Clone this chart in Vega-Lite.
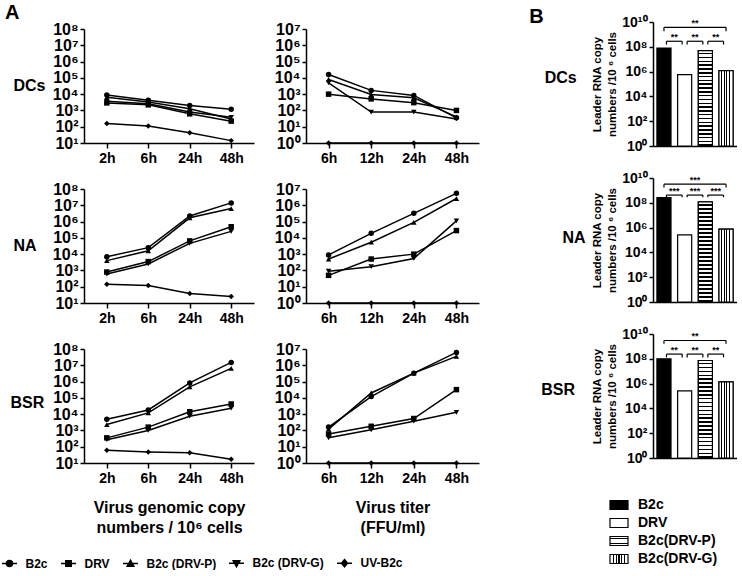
{
"$schema":"https://vega.github.io/schema/vega-lite/v6.json",
"padding":{"left":3,"top":3,"right":0,"bottom":0},
"background":"white",
"datasets":{
"lines":[
{"c":"DCs","a":"g","t":"2h","h":2,"s":"B2c","v":8900},{"c":"DCs","a":"g","t":"6h","h":6,"s":"B2c","v":4200},{"c":"DCs","a":"g","t":"24h","h":24,"s":"B2c","v":2000},{"c":"DCs","a":"g","t":"48h","h":48,"s":"B2c","v":1200},
{"c":"DCs","a":"g","t":"2h","h":2,"s":"DRV","v":2900},{"c":"DCs","a":"g","t":"6h","h":6,"s":"DRV","v":2200},{"c":"DCs","a":"g","t":"24h","h":24,"s":"DRV","v":620},{"c":"DCs","a":"g","t":"48h","h":48,"s":"DRV","v":220},
{"c":"DCs","a":"g","t":"2h","h":2,"s":"B2c (DRV-P)","v":6500},{"c":"DCs","a":"g","t":"6h","h":6,"s":"B2c (DRV-P)","v":3300},{"c":"DCs","a":"g","t":"24h","h":24,"s":"B2c (DRV-P)","v":1250},{"c":"DCs","a":"g","t":"48h","h":48,"s":"B2c (DRV-P)","v":300},
{"c":"DCs","a":"g","t":"2h","h":2,"s":"B2c (DRV-G)","v":3600},{"c":"DCs","a":"g","t":"6h","h":6,"s":"B2c (DRV-G)","v":2600},{"c":"DCs","a":"g","t":"24h","h":24,"s":"B2c (DRV-G)","v":800},{"c":"DCs","a":"g","t":"48h","h":48,"s":"B2c (DRV-G)","v":380},
{"c":"DCs","a":"g","t":"2h","h":2,"s":"UV-B2c","v":160},{"c":"DCs","a":"g","t":"6h","h":6,"s":"UV-B2c","v":110},{"c":"DCs","a":"g","t":"24h","h":24,"s":"UV-B2c","v":42},{"c":"DCs","a":"g","t":"48h","h":48,"s":"UV-B2c","v":14},
{"c":"DCs","a":"t","t":"6h","h":6,"s":"B2c","v":16000},{"c":"DCs","a":"t","t":"12h","h":12,"s":"B2c","v":1700},{"c":"DCs","a":"t","t":"24h","h":24,"s":"B2c","v":830},{"c":"DCs","a":"t","t":"48h","h":48,"s":"B2c","v":35},
{"c":"DCs","a":"t","t":"6h","h":6,"s":"DRV","v":1000},{"c":"DCs","a":"t","t":"12h","h":12,"s":"DRV","v":510},{"c":"DCs","a":"t","t":"24h","h":24,"s":"DRV","v":300},{"c":"DCs","a":"t","t":"48h","h":48,"s":"DRV","v":100},
{"c":"DCs","a":"t","t":"6h","h":6,"s":"B2c (DRV-P)","v":8000},{"c":"DCs","a":"t","t":"12h","h":12,"s":"B2c (DRV-P)","v":960},{"c":"DCs","a":"t","t":"24h","h":24,"s":"B2c (DRV-P)","v":600},{"c":"DCs","a":"t","t":"48h","h":48,"s":"B2c (DRV-P)","v":40},
{"c":"DCs","a":"t","t":"6h","h":6,"s":"B2c (DRV-G)","v":5000},{"c":"DCs","a":"t","t":"12h","h":12,"s":"B2c (DRV-G)","v":80},{"c":"DCs","a":"t","t":"24h","h":24,"s":"B2c (DRV-G)","v":80},{"c":"DCs","a":"t","t":"48h","h":48,"s":"B2c (DRV-G)","v":30},
{"c":"DCs","a":"t","t":"6h","h":6,"s":"UV-B2c","v":1},{"c":"DCs","a":"t","t":"12h","h":12,"s":"UV-B2c","v":1},{"c":"DCs","a":"t","t":"24h","h":24,"s":"UV-B2c","v":1},{"c":"DCs","a":"t","t":"48h","h":48,"s":"UV-B2c","v":1},
{"c":"NA","a":"g","t":"2h","h":2,"s":"B2c","v":7000},{"c":"NA","a":"g","t":"6h","h":6,"s":"B2c","v":25000},{"c":"NA","a":"g","t":"24h","h":24,"s":"B2c","v":2200000},{"c":"NA","a":"g","t":"48h","h":48,"s":"B2c","v":14000000},
{"c":"NA","a":"g","t":"2h","h":2,"s":"DRV","v":800},{"c":"NA","a":"g","t":"6h","h":6,"s":"DRV","v":3500},{"c":"NA","a":"g","t":"24h","h":24,"s":"DRV","v":65000},{"c":"NA","a":"g","t":"48h","h":48,"s":"DRV","v":480000},
{"c":"NA","a":"g","t":"2h","h":2,"s":"B2c (DRV-P)","v":4000},{"c":"NA","a":"g","t":"6h","h":6,"s":"B2c (DRV-P)","v":16000},{"c":"NA","a":"g","t":"24h","h":24,"s":"B2c (DRV-P)","v":1700000},{"c":"NA","a":"g","t":"48h","h":48,"s":"B2c (DRV-P)","v":6300000},
{"c":"NA","a":"g","t":"2h","h":2,"s":"B2c (DRV-G)","v":600},{"c":"NA","a":"g","t":"6h","h":6,"s":"B2c (DRV-G)","v":2500},{"c":"NA","a":"g","t":"24h","h":24,"s":"B2c (DRV-G)","v":46000},{"c":"NA","a":"g","t":"48h","h":48,"s":"B2c (DRV-G)","v":250000},
{"c":"NA","a":"g","t":"2h","h":2,"s":"UV-B2c","v":140},{"c":"NA","a":"g","t":"6h","h":6,"s":"UV-B2c","v":120},{"c":"NA","a":"g","t":"24h","h":24,"s":"UV-B2c","v":38},{"c":"NA","a":"g","t":"48h","h":48,"s":"UV-B2c","v":25},
{"c":"NA","a":"t","t":"6h","h":6,"s":"B2c","v":900},{"c":"NA","a":"t","t":"12h","h":12,"s":"B2c","v":19000},{"c":"NA","a":"t","t":"24h","h":24,"s":"B2c","v":320000},{"c":"NA","a":"t","t":"48h","h":48,"s":"B2c","v":5400000},
{"c":"NA","a":"t","t":"6h","h":6,"s":"DRV","v":50},{"c":"NA","a":"t","t":"12h","h":12,"s":"DRV","v":500},{"c":"NA","a":"t","t":"24h","h":24,"s":"DRV","v":1000},{"c":"NA","a":"t","t":"48h","h":48,"s":"DRV","v":28000},
{"c":"NA","a":"t","t":"6h","h":6,"s":"B2c (DRV-P)","v":500},{"c":"NA","a":"t","t":"12h","h":12,"s":"B2c (DRV-P)","v":5400},{"c":"NA","a":"t","t":"24h","h":24,"s":"B2c (DRV-P)","v":90000},{"c":"NA","a":"t","t":"48h","h":48,"s":"B2c (DRV-P)","v":2600000},
{"c":"NA","a":"t","t":"6h","h":6,"s":"B2c (DRV-G)","v":90},{"c":"NA","a":"t","t":"12h","h":12,"s":"B2c (DRV-G)","v":170},{"c":"NA","a":"t","t":"24h","h":24,"s":"B2c (DRV-G)","v":540},{"c":"NA","a":"t","t":"48h","h":48,"s":"B2c (DRV-G)","v":110000},
{"c":"NA","a":"t","t":"6h","h":6,"s":"UV-B2c","v":1},{"c":"NA","a":"t","t":"12h","h":12,"s":"UV-B2c","v":1},{"c":"NA","a":"t","t":"24h","h":24,"s":"UV-B2c","v":1},{"c":"NA","a":"t","t":"48h","h":48,"s":"UV-B2c","v":1},
{"c":"BSR","a":"g","t":"2h","h":2,"s":"B2c","v":4900},{"c":"BSR","a":"g","t":"6h","h":6,"s":"B2c","v":18000},{"c":"BSR","a":"g","t":"24h","h":24,"s":"B2c","v":830000},{"c":"BSR","a":"g","t":"48h","h":48,"s":"B2c","v":15000000},
{"c":"BSR","a":"g","t":"2h","h":2,"s":"DRV","v":350},{"c":"BSR","a":"g","t":"6h","h":6,"s":"DRV","v":1600},{"c":"BSR","a":"g","t":"24h","h":24,"s":"DRV","v":14000},{"c":"BSR","a":"g","t":"48h","h":48,"s":"DRV","v":42000},
{"c":"BSR","a":"g","t":"2h","h":2,"s":"B2c (DRV-P)","v":2300},{"c":"BSR","a":"g","t":"6h","h":6,"s":"B2c (DRV-P)","v":12000},{"c":"BSR","a":"g","t":"24h","h":24,"s":"B2c (DRV-P)","v":470000},{"c":"BSR","a":"g","t":"48h","h":48,"s":"B2c (DRV-P)","v":6500000},
{"c":"BSR","a":"g","t":"2h","h":2,"s":"B2c (DRV-G)","v":270},{"c":"BSR","a":"g","t":"6h","h":6,"s":"B2c (DRV-G)","v":1000},{"c":"BSR","a":"g","t":"24h","h":24,"s":"B2c (DRV-G)","v":7500},{"c":"BSR","a":"g","t":"48h","h":48,"s":"B2c (DRV-G)","v":23000},
{"c":"BSR","a":"g","t":"2h","h":2,"s":"UV-B2c","v":60},{"c":"BSR","a":"g","t":"6h","h":6,"s":"UV-B2c","v":48},{"c":"BSR","a":"g","t":"24h","h":24,"s":"UV-B2c","v":42},{"c":"BSR","a":"g","t":"48h","h":48,"s":"UV-B2c","v":17},
{"c":"BSR","a":"t","t":"6h","h":6,"s":"B2c","v":160},{"c":"BSR","a":"t","t":"12h","h":12,"s":"B2c","v":12000},{"c":"BSR","a":"t","t":"24h","h":24,"s":"B2c","v":330000},{"c":"BSR","a":"t","t":"48h","h":48,"s":"B2c","v":6200000},
{"c":"BSR","a":"t","t":"6h","h":6,"s":"DRV","v":60},{"c":"BSR","a":"t","t":"12h","h":12,"s":"DRV","v":180},{"c":"BSR","a":"t","t":"24h","h":24,"s":"DRV","v":540},{"c":"BSR","a":"t","t":"48h","h":48,"s":"DRV","v":32000},
{"c":"BSR","a":"t","t":"6h","h":6,"s":"B2c (DRV-P)","v":120},{"c":"BSR","a":"t","t":"12h","h":12,"s":"B2c (DRV-P)","v":20000},{"c":"BSR","a":"t","t":"24h","h":24,"s":"B2c (DRV-P)","v":330000},{"c":"BSR","a":"t","t":"48h","h":48,"s":"B2c (DRV-P)","v":3500000},
{"c":"BSR","a":"t","t":"6h","h":6,"s":"B2c (DRV-G)","v":35},{"c":"BSR","a":"t","t":"12h","h":12,"s":"B2c (DRV-G)","v":110},{"c":"BSR","a":"t","t":"24h","h":24,"s":"B2c (DRV-G)","v":370},{"c":"BSR","a":"t","t":"48h","h":48,"s":"B2c (DRV-G)","v":1300},
{"c":"BSR","a":"t","t":"6h","h":6,"s":"UV-B2c","v":1},{"c":"BSR","a":"t","t":"12h","h":12,"s":"UV-B2c","v":1},{"c":"BSR","a":"t","t":"24h","h":24,"s":"UV-B2c","v":1},{"c":"BSR","a":"t","t":"48h","h":48,"s":"UV-B2c","v":1}
],
"bars":[
{"c":"DCs","g":"B2c","v":80000000},{"c":"DCs","g":"DRV","v":560000},{"c":"DCs","g":"B2c(DRV-P)","v":49000000},{"c":"DCs","g":"B2c(DRV-G)","v":1200000},
{"c":"NA","g":"B2c","v":260000000},{"c":"NA","g":"DRV","v":260000},{"c":"NA","g":"B2c(DRV-P)","v":120000000},{"c":"NA","g":"B2c(DRV-G)","v":740000},
{"c":"BSR","g":"B2c","v":100000000},{"c":"BSR","g":"DRV","v":260000},{"c":"BSR","g":"B2c(DRV-P)","v":73000000},{"c":"BSR","g":"B2c(DRV-G)","v":1400000}
],
"br":[
{"c":"DCs","k":"o","from":"B2c","to":"B2c(DRV-G)","lab":"DRV","y":3700000000,"ylo":1800000000,"txt":"**"},
{"c":"DCs","k":"i","from":"B2c","to":"DRV","lab":"B2c","y":280000000,"ylo":150000000,"txt":"**"},
{"c":"DCs","k":"i","from":"DRV","to":"B2c(DRV-P)","lab":"DRV","y":280000000,"ylo":150000000,"txt":"**"},
{"c":"DCs","k":"i","from":"B2c(DRV-P)","to":"B2c(DRV-G)","lab":"B2c(DRV-P)","y":280000000,"ylo":150000000,"txt":"**"},
{"c":"NA","k":"o","from":"B2c","to":"B2c(DRV-G)","lab":"DRV","y":3200000000,"ylo":1700000000,"txt":"***"},
{"c":"NA","k":"i","from":"B2c","to":"DRV","lab":"B2c","y":420000000,"ylo":280000000,"txt":"***"},
{"c":"NA","k":"i","from":"DRV","to":"B2c(DRV-P)","lab":"DRV","y":420000000,"ylo":280000000,"txt":"***"},
{"c":"NA","k":"i","from":"B2c(DRV-P)","to":"B2c(DRV-G)","lab":"B2c(DRV-P)","y":420000000,"ylo":280000000,"txt":"***"},
{"c":"BSR","k":"o","from":"B2c","to":"B2c(DRV-G)","lab":"DRV","y":3000000000,"ylo":1600000000,"txt":"**"},
{"c":"BSR","k":"i","from":"B2c","to":"DRV","lab":"B2c","y":240000000,"ylo":130000000,"txt":"**"},
{"c":"BSR","k":"i","from":"DRV","to":"B2c(DRV-P)","lab":"DRV","y":240000000,"ylo":130000000,"txt":"**"},
{"c":"BSR","k":"i","from":"B2c(DRV-P)","to":"B2c(DRV-G)","lab":"B2c(DRV-P)","y":240000000,"ylo":130000000,"txt":"**"}
]
},
"config":{
"font":"Liberation Sans",
"view":{"stroke":null},
"axis":{"grid":false,"labelFont":"Liberation Sans","labelFontWeight":"bold","labelFontSize":14,"labelColor":"black","titleFont":"Liberation Sans","titleFontWeight":"bold","titleColor":"black","domainColor":"black","domainWidth":1.5,"tickColor":"black","tickWidth":1.5,"tickSize":4,"labelPadding":2},
"axisY":{"labelFontSize":16},
"title":{"font":"Liberation Sans","fontWeight":"bold","color":"black","fontSize":20},
"legend":{"padding":0,"labelFont":"Liberation Sans Narrow, Liberation Sans","labelFontWeight":"bold","labelColor":"black","labelFontSize":12}
},
"spacing":50,
"hconcat":[
{
"title":{"text":"A","anchor":"start","fontSize":20,"dx":-5,"offset":-2},
"columns":2,"bounds":"flush","spacing":{"row":46,"column":52},
"concat":[
{"width":170,"height":114,"data":{"name":"lines"},"transform":[{"filter":"datum.c==='DCs' && datum.a==='g'"}],
"encoding":{"x":{"field":"t","type":"ordinal","scale":{"type":"point","domain":["2h","6h","24h","48h"],"padding":0.55},"axis":{"title":null,"labelAngle":0,"tickSize":5,"labelPadding":3}},
"y":{"field":"v","type":"quantitative","scale":{"type":"log","domain":[10,100000000]},"axis":{"values":[10,100,1000,10000,100000,1000000,10000000,100000000],"labelExpr":"'10' + ['⁰','¹','²','³','⁴','⁵','⁶','⁷','⁸','⁹','¹⁰'][round(log(datum.value)/LN10)]","title":"DCs","titleAngle":0,"titleAlign":"left","titleBaseline":"middle","titleX":-71,"titleY":56,"titleFontSize":16}}},
"layer":[{"mark":{"type":"line","color":"black","strokeWidth":1.5},"encoding":{"detail":{"field":"s","type":"nominal"},"order":{"field":"h","type":"quantitative"}}},
{"transform":[{"filter":"datum.s==='B2c'"}],"mark":{"type":"point","shape":"circle","filled":true,"color":"black","size":30,"opacity":1}},
{"transform":[{"filter":"datum.s==='DRV'"}],"mark":{"type":"point","shape":"square","filled":true,"color":"black","size":30,"opacity":1}},
{"transform":[{"filter":"datum.s==='B2c (DRV-P)'"}],"mark":{"type":"point","shape":"triangle-up","filled":true,"color":"black","size":30,"opacity":1}},
{"transform":[{"filter":"datum.s==='B2c (DRV-G)'"}],"mark":{"type":"point","shape":"triangle-down","filled":true,"color":"black","size":30,"opacity":1}},
{"transform":[{"filter":"datum.s==='UV-B2c'"}],"mark":{"type":"point","shape":"diamond","filled":true,"color":"black","size":30,"opacity":1}},
{"mark":{"type":"point","fill":"black","stroke":"black","strokeWidth":1.5,"size":36,"opacity":0},"encoding":{"shape":{"field":"s","type":"nominal","scale":{"domain":["B2c","DRV","B2c (DRV-P)","B2c (DRV-G)","UV-B2c"],"range":["M-2.5,0H2.5M1,0A1,1,0,1,1,-1,0A1,1,0,1,1,1,0Z","M-2.5,0H2.5M-0.9,-0.9H0.9V0.9H-0.9Z","M-2.5,0H2.5M0,-1.1L1.1,0.9H-1.1Z","M-2.5,0H2.5M0,1.1L1.1,-0.9H-1.1Z","M-2.5,0H2.5M0,-1.2L1,0L0,1.2L-1,0Z"]},
"legend":{"orient":"none","legendX":-80.5,"legendY":528,"direction":"horizontal","title":null,"symbolSize":36,"symbolOpacity":1,"symbolStrokeWidth":1.5,"labelFont":"Liberation Sans Narrow, Liberation Sans","labelFontSize":12,"labelOffset":10,"columnPadding":9}}}}]},
{"width":173,"height":114,"data":{"name":"lines"},"transform":[{"filter":"datum.c==='DCs' && datum.a==='t'"}],
"encoding":{"x":{"field":"t","type":"ordinal","scale":{"type":"point","domain":["6h","12h","24h","48h"],"padding":0.53},"axis":{"title":null,"labelAngle":0,"tickSize":5,"labelPadding":3}},
"y":{"field":"v","type":"quantitative","scale":{"type":"log","domain":[1,10000000]},"axis":{"values":[1,10,100,1000,10000,100000,1000000,10000000],"labelExpr":"'10' + ['⁰','¹','²','³','⁴','⁵','⁶','⁷','⁸','⁹','¹⁰'][round(log(datum.value)/LN10)]","title":null}}},
"layer":[{"mark":{"type":"line","color":"black","strokeWidth":1.5},"encoding":{"detail":{"field":"s","type":"nominal"},"order":{"field":"h","type":"quantitative"}}},
{"transform":[{"filter":"datum.s==='B2c'"}],"mark":{"type":"point","shape":"circle","filled":true,"color":"black","size":30,"opacity":1}},
{"transform":[{"filter":"datum.s==='DRV'"}],"mark":{"type":"point","shape":"square","filled":true,"color":"black","size":30,"opacity":1}},
{"transform":[{"filter":"datum.s==='B2c (DRV-P)'"}],"mark":{"type":"point","shape":"triangle-up","filled":true,"color":"black","size":30,"opacity":1}},
{"transform":[{"filter":"datum.s==='B2c (DRV-G)'"}],"mark":{"type":"point","shape":"triangle-down","filled":true,"color":"black","size":30,"opacity":1}},
{"transform":[{"filter":"datum.s==='UV-B2c'"}],"mark":{"type":"point","shape":"diamond","filled":true,"color":"black","size":30,"opacity":1}}]},
{"width":170,"height":114,"data":{"name":"lines"},"transform":[{"filter":"datum.c==='NA' && datum.a==='g'"}],
"encoding":{"x":{"field":"t","type":"ordinal","scale":{"type":"point","domain":["2h","6h","24h","48h"],"padding":0.55},"axis":{"title":null,"labelAngle":0,"tickSize":5,"labelPadding":3}},
"y":{"field":"v","type":"quantitative","scale":{"type":"log","domain":[10,100000000]},"axis":{"values":[10,100,1000,10000,100000,1000000,10000000,100000000],"labelExpr":"'10' + ['⁰','¹','²','³','⁴','⁵','⁶','⁷','⁸','⁹','¹⁰'][round(log(datum.value)/LN10)]","title":"NA","titleAngle":0,"titleAlign":"left","titleBaseline":"middle","titleX":-71,"titleY":56,"titleFontSize":16}}},
"layer":[{"mark":{"type":"line","color":"black","strokeWidth":1.5},"encoding":{"detail":{"field":"s","type":"nominal"},"order":{"field":"h","type":"quantitative"}}},
{"transform":[{"filter":"datum.s==='B2c'"}],"mark":{"type":"point","shape":"circle","filled":true,"color":"black","size":30,"opacity":1}},
{"transform":[{"filter":"datum.s==='DRV'"}],"mark":{"type":"point","shape":"square","filled":true,"color":"black","size":30,"opacity":1}},
{"transform":[{"filter":"datum.s==='B2c (DRV-P)'"}],"mark":{"type":"point","shape":"triangle-up","filled":true,"color":"black","size":30,"opacity":1}},
{"transform":[{"filter":"datum.s==='B2c (DRV-G)'"}],"mark":{"type":"point","shape":"triangle-down","filled":true,"color":"black","size":30,"opacity":1}},
{"transform":[{"filter":"datum.s==='UV-B2c'"}],"mark":{"type":"point","shape":"diamond","filled":true,"color":"black","size":30,"opacity":1}}]},
{"width":173,"height":114,"data":{"name":"lines"},"transform":[{"filter":"datum.c==='NA' && datum.a==='t'"}],
"encoding":{"x":{"field":"t","type":"ordinal","scale":{"type":"point","domain":["6h","12h","24h","48h"],"padding":0.53},"axis":{"title":null,"labelAngle":0,"tickSize":5,"labelPadding":3}},
"y":{"field":"v","type":"quantitative","scale":{"type":"log","domain":[1,10000000]},"axis":{"values":[1,10,100,1000,10000,100000,1000000,10000000],"labelExpr":"'10' + ['⁰','¹','²','³','⁴','⁵','⁶','⁷','⁸','⁹','¹⁰'][round(log(datum.value)/LN10)]","title":null}}},
"layer":[{"mark":{"type":"line","color":"black","strokeWidth":1.5},"encoding":{"detail":{"field":"s","type":"nominal"},"order":{"field":"h","type":"quantitative"}}},
{"transform":[{"filter":"datum.s==='B2c'"}],"mark":{"type":"point","shape":"circle","filled":true,"color":"black","size":30,"opacity":1}},
{"transform":[{"filter":"datum.s==='DRV'"}],"mark":{"type":"point","shape":"square","filled":true,"color":"black","size":30,"opacity":1}},
{"transform":[{"filter":"datum.s==='B2c (DRV-P)'"}],"mark":{"type":"point","shape":"triangle-up","filled":true,"color":"black","size":30,"opacity":1}},
{"transform":[{"filter":"datum.s==='B2c (DRV-G)'"}],"mark":{"type":"point","shape":"triangle-down","filled":true,"color":"black","size":30,"opacity":1}},
{"transform":[{"filter":"datum.s==='UV-B2c'"}],"mark":{"type":"point","shape":"diamond","filled":true,"color":"black","size":30,"opacity":1}}]},
{"width":170,"height":114,"data":{"name":"lines"},"transform":[{"filter":"datum.c==='BSR' && datum.a==='g'"}],
"encoding":{"x":{"field":"t","type":"ordinal","scale":{"type":"point","domain":["2h","6h","24h","48h"],"padding":0.55},"axis":{"title":["Virus genomic copy","numbers / 10⁶ cells"],"titleFontSize":16,"titleLineHeight":20,"titlePadding":14,"labelAngle":0,"tickSize":5,"labelPadding":3}},
"y":{"field":"v","type":"quantitative","scale":{"type":"log","domain":[10,100000000]},"axis":{"values":[10,100,1000,10000,100000,1000000,10000000,100000000],"labelExpr":"'10' + ['⁰','¹','²','³','⁴','⁵','⁶','⁷','⁸','⁹','¹⁰'][round(log(datum.value)/LN10)]","title":"BSR","titleAngle":0,"titleAlign":"left","titleBaseline":"middle","titleX":-74,"titleY":53,"titleFontSize":16}}},
"layer":[{"mark":{"type":"line","color":"black","strokeWidth":1.5},"encoding":{"detail":{"field":"s","type":"nominal"},"order":{"field":"h","type":"quantitative"}}},
{"transform":[{"filter":"datum.s==='B2c'"}],"mark":{"type":"point","shape":"circle","filled":true,"color":"black","size":30,"opacity":1}},
{"transform":[{"filter":"datum.s==='DRV'"}],"mark":{"type":"point","shape":"square","filled":true,"color":"black","size":30,"opacity":1}},
{"transform":[{"filter":"datum.s==='B2c (DRV-P)'"}],"mark":{"type":"point","shape":"triangle-up","filled":true,"color":"black","size":30,"opacity":1}},
{"transform":[{"filter":"datum.s==='B2c (DRV-G)'"}],"mark":{"type":"point","shape":"triangle-down","filled":true,"color":"black","size":30,"opacity":1}},
{"transform":[{"filter":"datum.s==='UV-B2c'"}],"mark":{"type":"point","shape":"diamond","filled":true,"color":"black","size":30,"opacity":1}}]},
{"width":173,"height":114,"data":{"name":"lines"},"transform":[{"filter":"datum.c==='BSR' && datum.a==='t'"}],
"encoding":{"x":{"field":"t","type":"ordinal","scale":{"type":"point","domain":["6h","12h","24h","48h"],"padding":0.53},"axis":{"title":["Virus titer","(FFU/ml)"],"titleFontSize":16,"titleLineHeight":20,"titlePadding":14,"labelAngle":0,"tickSize":5,"labelPadding":3}},
"y":{"field":"v","type":"quantitative","scale":{"type":"log","domain":[1,10000000]},"axis":{"values":[1,10,100,1000,10000,100000,1000000,10000000],"labelExpr":"'10' + ['⁰','¹','²','³','⁴','⁵','⁶','⁷','⁸','⁹','¹⁰'][round(log(datum.value)/LN10)]","title":null}}},
"layer":[{"mark":{"type":"line","color":"black","strokeWidth":1.5},"encoding":{"detail":{"field":"s","type":"nominal"},"order":{"field":"h","type":"quantitative"}}},
{"transform":[{"filter":"datum.s==='B2c'"}],"mark":{"type":"point","shape":"circle","filled":true,"color":"black","size":30,"opacity":1}},
{"transform":[{"filter":"datum.s==='DRV'"}],"mark":{"type":"point","shape":"square","filled":true,"color":"black","size":30,"opacity":1}},
{"transform":[{"filter":"datum.s==='B2c (DRV-P)'"}],"mark":{"type":"point","shape":"triangle-up","filled":true,"color":"black","size":30,"opacity":1}},
{"transform":[{"filter":"datum.s==='B2c (DRV-G)'"}],"mark":{"type":"point","shape":"triangle-down","filled":true,"color":"black","size":30,"opacity":1}},
{"transform":[{"filter":"datum.s==='UV-B2c'"}],"mark":{"type":"point","shape":"diamond","filled":true,"color":"black","size":30,"opacity":1}}]}
]
},
{
"title":{"text":"B","anchor":"start","fontSize":20,"dx":-12,"offset":-12},
"bounds":"flush","spacing":39,
"vconcat":[
{"width":84,"height":117,
"title":{"text":"DCs","orient":"left","angle":0,"align":"right","baseline":"middle","anchor":"middle","offset":-17,"dy":-10,"fontSize":16},
"layer":[
{"data":{"name":"bars"},"transform":[{"filter":"datum.c==='DCs'"}],"mark":{"type":"bar","stroke":"black","strokeWidth":1.2},
"encoding":{"x":{"field":"g","type":"nominal","scale":{"type":"band","domain":["B2c","DRV","B2c(DRV-P)","B2c(DRV-G)"],"paddingInner":0.32,"paddingOuter":0.19},"axis":{"title":null,"labels":false,"ticks":false}},
"y":{"field":"v","type":"quantitative","scale":{"type":"log","domain":[1,10000000000],"range":[117,-7]},"axis":{"values":[1,100,10000,1000000,100000000,10000000000],"labelExpr":"'10' + ['⁰','¹','²','³','⁴','⁵','⁶','⁷','⁸','⁹','¹⁰'][round(log(datum.value)/LN10)]","labelFontSize":14,"title":["Leader RNA copy","numbers /10 ⁶ cells"],"titleFontSize":11.5,"titleLineHeight":15,"titlePadding":4}},
"y2":{"datum":1},
"fill":{"field":"g","type":"nominal","scale":{"domain":["B2c","DRV","B2c(DRV-P)","B2c(DRV-G)"],"range":["black","white",{"signal":"{gradient:'linear',x1:0,y1:0,x2:0,y2:1,stops:[{offset:0,color:'white'},{offset:0.2,color:'white'},{offset:0.2,color:'black'},{offset:0.31,color:'black'},{offset:0.31,color:'white'},{offset:0.445,color:'white'},{offset:0.445,color:'black'},{offset:0.555,color:'black'},{offset:0.555,color:'white'},{offset:0.69,color:'white'},{offset:0.69,color:'black'},{offset:0.8,color:'black'},{offset:0.8,color:'white'},{offset:1,color:'white'}]}"},{"signal":"{gradient:'linear',x1:0,y1:0,x2:1,y2:0,stops:[{offset:0,color:'white'},{offset:0.14,color:'white'},{offset:0.14,color:'black'},{offset:0.2,color:'black'},{offset:0.2,color:'white'},{offset:0.31,color:'white'},{offset:0.31,color:'black'},{offset:0.37,color:'black'},{offset:0.37,color:'white'},{offset:0.47,color:'white'},{offset:0.47,color:'black'},{offset:0.53,color:'black'},{offset:0.53,color:'white'},{offset:0.63,color:'white'},{offset:0.63,color:'black'},{offset:0.69,color:'black'},{offset:0.69,color:'white'},{offset:0.8,color:'white'},{offset:0.8,color:'black'},{offset:0.86,color:'black'},{offset:0.86,color:'white'},{offset:1,color:'white'}]}"}]},
"legend":{"orient":"none","legendX":528,"legendY":469,"direction":"vertical","title":null,"symbolType":"M-1.8,-0.9H1.8V0.9H-1.8Z","symbolSize":100,"labelFont":"Liberation Sans","labelFontSize":14,"labelOffset":12,"rowPadding":4,"symbolStrokeWidth":1.2,"symbolStrokeColor":"black"}}}},
{"data":{"name":"bars"},"transform":[{"filter":"datum.c==='DCs' && datum.g==='B2c(DRV-P)'"}],"mark":{"type":"bar","stroke":"black","strokeWidth":1.2,"fill":{"gradient":"linear","x1":0,"y1":0,"x2":0,"y2":1,"stops":[
{"offset":0,"color":"#fff"},{"offset":0.024,"color":"#fff"},{"offset":0.024,"color":"#000"},{"offset":0.04,"color":"#000"},
{"offset":0.04,"color":"#fff"},{"offset":0.064,"color":"#fff"},{"offset":0.064,"color":"#000"},{"offset":0.08,"color":"#000"},
{"offset":0.08,"color":"#fff"},{"offset":0.104,"color":"#fff"},{"offset":0.104,"color":"#000"},{"offset":0.12,"color":"#000"},
{"offset":0.12,"color":"#fff"},{"offset":0.144,"color":"#fff"},{"offset":0.144,"color":"#000"},{"offset":0.16,"color":"#000"},
{"offset":0.16,"color":"#fff"},{"offset":0.184,"color":"#fff"},{"offset":0.184,"color":"#000"},{"offset":0.2,"color":"#000"},
{"offset":0.2,"color":"#fff"},{"offset":0.224,"color":"#fff"},{"offset":0.224,"color":"#000"},{"offset":0.24,"color":"#000"},
{"offset":0.24,"color":"#fff"},{"offset":0.264,"color":"#fff"},{"offset":0.264,"color":"#000"},{"offset":0.28,"color":"#000"},
{"offset":0.28,"color":"#fff"},{"offset":0.304,"color":"#fff"},{"offset":0.304,"color":"#000"},{"offset":0.32,"color":"#000"},
{"offset":0.32,"color":"#fff"},{"offset":0.344,"color":"#fff"},{"offset":0.344,"color":"#000"},{"offset":0.36,"color":"#000"},
{"offset":0.36,"color":"#fff"},{"offset":0.384,"color":"#fff"},{"offset":0.384,"color":"#000"},{"offset":0.4,"color":"#000"},
{"offset":0.4,"color":"#fff"},{"offset":0.424,"color":"#fff"},{"offset":0.424,"color":"#000"},{"offset":0.44,"color":"#000"},
{"offset":0.44,"color":"#fff"},{"offset":0.464,"color":"#fff"},{"offset":0.464,"color":"#000"},{"offset":0.48,"color":"#000"},
{"offset":0.48,"color":"#fff"},{"offset":0.504,"color":"#fff"},{"offset":0.504,"color":"#000"},{"offset":0.52,"color":"#000"},
{"offset":0.52,"color":"#fff"},{"offset":0.544,"color":"#fff"},{"offset":0.544,"color":"#000"},{"offset":0.56,"color":"#000"},
{"offset":0.56,"color":"#fff"},{"offset":0.584,"color":"#fff"},{"offset":0.584,"color":"#000"},{"offset":0.6,"color":"#000"},
{"offset":0.6,"color":"#fff"},{"offset":0.624,"color":"#fff"},{"offset":0.624,"color":"#000"},{"offset":0.64,"color":"#000"},
{"offset":0.64,"color":"#fff"},{"offset":0.664,"color":"#fff"},{"offset":0.664,"color":"#000"},{"offset":0.68,"color":"#000"},
{"offset":0.68,"color":"#fff"},{"offset":0.704,"color":"#fff"},{"offset":0.704,"color":"#000"},{"offset":0.72,"color":"#000"},
{"offset":0.72,"color":"#fff"},{"offset":0.744,"color":"#fff"},{"offset":0.744,"color":"#000"},{"offset":0.76,"color":"#000"},
{"offset":0.76,"color":"#fff"},{"offset":0.784,"color":"#fff"},{"offset":0.784,"color":"#000"},{"offset":0.8,"color":"#000"},
{"offset":0.8,"color":"#fff"},{"offset":0.824,"color":"#fff"},{"offset":0.824,"color":"#000"},{"offset":0.84,"color":"#000"},
{"offset":0.84,"color":"#fff"},{"offset":0.864,"color":"#fff"},{"offset":0.864,"color":"#000"},{"offset":0.88,"color":"#000"},
{"offset":0.88,"color":"#fff"},{"offset":0.904,"color":"#fff"},{"offset":0.904,"color":"#000"},{"offset":0.92,"color":"#000"},
{"offset":0.92,"color":"#fff"},{"offset":0.944,"color":"#fff"},{"offset":0.944,"color":"#000"},{"offset":0.96,"color":"#000"},
{"offset":0.96,"color":"#fff"},{"offset":0.984,"color":"#fff"},{"offset":0.984,"color":"#000"},{"offset":1,"color":"#000"}]}},"encoding":{"x":{"field":"g","type":"nominal"},"y":{"field":"v","type":"quantitative"},"y2":{"datum":1}}},
{"data":{"name":"bars"},"transform":[{"filter":"datum.c==='DCs' && datum.g==='B2c(DRV-G)'"}],"mark":{"type":"bar","stroke":"black","strokeWidth":1.2,"fill":{"gradient":"linear","x1":0,"y1":0,"x2":1,"y2":0,"stops":[
{"offset":0,"color":"#fff"},{"offset":0.13,"color":"#fff"},{"offset":0.13,"color":"#000"},{"offset":0.2,"color":"#000"},
{"offset":0.2,"color":"#fff"},{"offset":0.33,"color":"#fff"},{"offset":0.33,"color":"#000"},{"offset":0.4,"color":"#000"},
{"offset":0.4,"color":"#fff"},{"offset":0.53,"color":"#fff"},{"offset":0.53,"color":"#000"},{"offset":0.6,"color":"#000"},
{"offset":0.6,"color":"#fff"},{"offset":0.73,"color":"#fff"},{"offset":0.73,"color":"#000"},{"offset":0.8,"color":"#000"},
{"offset":0.8,"color":"#fff"},{"offset":1,"color":"#fff"}]}},"encoding":{"x":{"field":"g","type":"nominal"},"y":{"field":"v","type":"quantitative"},"y2":{"datum":1}}},
{"data":{"name":"br"},"transform":[{"filter":"datum.c==='DCs' && datum.k==='o'"}],"layer":[
{"mark":{"type":"rule","color":"black","strokeWidth":1.2},"encoding":{"x":{"field":"from","type":"nominal","bandPosition":0.5},"x2":{"field":"to","bandPosition":0.5},"y":{"field":"y","type":"quantitative"}}},
{"mark":{"type":"rule","color":"black","strokeWidth":1.2},"encoding":{"x":{"field":"from","type":"nominal","bandPosition":0.5},"y":{"field":"y","type":"quantitative"},"y2":{"field":"ylo"}}},
{"mark":{"type":"rule","color":"black","strokeWidth":1.2},"encoding":{"x":{"field":"to","type":"nominal","bandPosition":0.5},"y":{"field":"y","type":"quantitative"},"y2":{"field":"ylo"}}}]},
{"data":{"name":"br"},"transform":[{"filter":"datum.c==='DCs' && datum.k==='i'"}],"layer":[
{"mark":{"type":"rule","color":"black","strokeWidth":1.2,"xOffset":2.5,"x2Offset":-2.5},"encoding":{"x":{"field":"from","type":"nominal","bandPosition":0.5},"x2":{"field":"to","bandPosition":0.5},"y":{"field":"y","type":"quantitative"}}},
{"mark":{"type":"rule","color":"black","strokeWidth":1.2,"xOffset":2.5},"encoding":{"x":{"field":"from","type":"nominal","bandPosition":0.5},"y":{"field":"y","type":"quantitative"},"y2":{"field":"ylo"}}},
{"mark":{"type":"rule","color":"black","strokeWidth":1.2,"xOffset":-2.5},"encoding":{"x":{"field":"to","type":"nominal","bandPosition":0.5},"y":{"field":"y","type":"quantitative"},"y2":{"field":"ylo"}}}]},
{"data":{"name":"br"},"transform":[{"filter":"datum.c==='DCs'"}],"mark":{"type":"text","dx":3.3,"dy":-4,"fontSize":9,"fontWeight":"bold","baseline":"middle","color":"black"},"encoding":{"x":{"field":"lab","type":"nominal","bandPosition":1},"y":{"field":"y","type":"quantitative"},"text":{"field":"txt"}}}
]},
{"width":84,"height":117,
"title":{"text":"NA","orient":"left","angle":0,"align":"right","baseline":"middle","anchor":"middle","offset":-17,"dy":-6,"fontSize":16},
"layer":[
{"data":{"name":"bars"},"transform":[{"filter":"datum.c==='NA'"}],"mark":{"type":"bar","stroke":"black","strokeWidth":1.2},
"encoding":{"x":{"field":"g","type":"nominal","scale":{"type":"band","domain":["B2c","DRV","B2c(DRV-P)","B2c(DRV-G)"],"paddingInner":0.32,"paddingOuter":0.19},"axis":{"title":null,"labels":false,"ticks":false}},
"y":{"field":"v","type":"quantitative","scale":{"type":"log","domain":[1,10000000000],"range":[117,-7]},"axis":{"values":[1,100,10000,1000000,100000000,10000000000],"labelExpr":"'10' + ['⁰','¹','²','³','⁴','⁵','⁶','⁷','⁸','⁹','¹⁰'][round(log(datum.value)/LN10)]","labelFontSize":14,"title":["Leader RNA copy","numbers /10 ⁶ cells"],"titleFontSize":11.5,"titleLineHeight":15,"titlePadding":4}},
"y2":{"datum":1},
"fill":{"field":"g","type":"nominal"}}},
{"data":{"name":"bars"},"transform":[{"filter":"datum.c==='NA' && datum.g==='B2c(DRV-P)'"}],"mark":{"type":"bar","stroke":"black","strokeWidth":1.2,"fill":{"gradient":"linear","x1":0,"y1":0,"x2":0,"y2":1,"stops":[
{"offset":0,"color":"#fff"},{"offset":0.024,"color":"#fff"},{"offset":0.024,"color":"#000"},{"offset":0.04,"color":"#000"},
{"offset":0.04,"color":"#fff"},{"offset":0.064,"color":"#fff"},{"offset":0.064,"color":"#000"},{"offset":0.08,"color":"#000"},
{"offset":0.08,"color":"#fff"},{"offset":0.104,"color":"#fff"},{"offset":0.104,"color":"#000"},{"offset":0.12,"color":"#000"},
{"offset":0.12,"color":"#fff"},{"offset":0.144,"color":"#fff"},{"offset":0.144,"color":"#000"},{"offset":0.16,"color":"#000"},
{"offset":0.16,"color":"#fff"},{"offset":0.184,"color":"#fff"},{"offset":0.184,"color":"#000"},{"offset":0.2,"color":"#000"},
{"offset":0.2,"color":"#fff"},{"offset":0.224,"color":"#fff"},{"offset":0.224,"color":"#000"},{"offset":0.24,"color":"#000"},
{"offset":0.24,"color":"#fff"},{"offset":0.264,"color":"#fff"},{"offset":0.264,"color":"#000"},{"offset":0.28,"color":"#000"},
{"offset":0.28,"color":"#fff"},{"offset":0.304,"color":"#fff"},{"offset":0.304,"color":"#000"},{"offset":0.32,"color":"#000"},
{"offset":0.32,"color":"#fff"},{"offset":0.344,"color":"#fff"},{"offset":0.344,"color":"#000"},{"offset":0.36,"color":"#000"},
{"offset":0.36,"color":"#fff"},{"offset":0.384,"color":"#fff"},{"offset":0.384,"color":"#000"},{"offset":0.4,"color":"#000"},
{"offset":0.4,"color":"#fff"},{"offset":0.424,"color":"#fff"},{"offset":0.424,"color":"#000"},{"offset":0.44,"color":"#000"},
{"offset":0.44,"color":"#fff"},{"offset":0.464,"color":"#fff"},{"offset":0.464,"color":"#000"},{"offset":0.48,"color":"#000"},
{"offset":0.48,"color":"#fff"},{"offset":0.504,"color":"#fff"},{"offset":0.504,"color":"#000"},{"offset":0.52,"color":"#000"},
{"offset":0.52,"color":"#fff"},{"offset":0.544,"color":"#fff"},{"offset":0.544,"color":"#000"},{"offset":0.56,"color":"#000"},
{"offset":0.56,"color":"#fff"},{"offset":0.584,"color":"#fff"},{"offset":0.584,"color":"#000"},{"offset":0.6,"color":"#000"},
{"offset":0.6,"color":"#fff"},{"offset":0.624,"color":"#fff"},{"offset":0.624,"color":"#000"},{"offset":0.64,"color":"#000"},
{"offset":0.64,"color":"#fff"},{"offset":0.664,"color":"#fff"},{"offset":0.664,"color":"#000"},{"offset":0.68,"color":"#000"},
{"offset":0.68,"color":"#fff"},{"offset":0.704,"color":"#fff"},{"offset":0.704,"color":"#000"},{"offset":0.72,"color":"#000"},
{"offset":0.72,"color":"#fff"},{"offset":0.744,"color":"#fff"},{"offset":0.744,"color":"#000"},{"offset":0.76,"color":"#000"},
{"offset":0.76,"color":"#fff"},{"offset":0.784,"color":"#fff"},{"offset":0.784,"color":"#000"},{"offset":0.8,"color":"#000"},
{"offset":0.8,"color":"#fff"},{"offset":0.824,"color":"#fff"},{"offset":0.824,"color":"#000"},{"offset":0.84,"color":"#000"},
{"offset":0.84,"color":"#fff"},{"offset":0.864,"color":"#fff"},{"offset":0.864,"color":"#000"},{"offset":0.88,"color":"#000"},
{"offset":0.88,"color":"#fff"},{"offset":0.904,"color":"#fff"},{"offset":0.904,"color":"#000"},{"offset":0.92,"color":"#000"},
{"offset":0.92,"color":"#fff"},{"offset":0.944,"color":"#fff"},{"offset":0.944,"color":"#000"},{"offset":0.96,"color":"#000"},
{"offset":0.96,"color":"#fff"},{"offset":0.984,"color":"#fff"},{"offset":0.984,"color":"#000"},{"offset":1,"color":"#000"}]}},"encoding":{"x":{"field":"g","type":"nominal"},"y":{"field":"v","type":"quantitative"},"y2":{"datum":1}}},
{"data":{"name":"bars"},"transform":[{"filter":"datum.c==='NA' && datum.g==='B2c(DRV-G)'"}],"mark":{"type":"bar","stroke":"black","strokeWidth":1.2,"fill":{"gradient":"linear","x1":0,"y1":0,"x2":1,"y2":0,"stops":[
{"offset":0,"color":"#fff"},{"offset":0.13,"color":"#fff"},{"offset":0.13,"color":"#000"},{"offset":0.2,"color":"#000"},
{"offset":0.2,"color":"#fff"},{"offset":0.33,"color":"#fff"},{"offset":0.33,"color":"#000"},{"offset":0.4,"color":"#000"},
{"offset":0.4,"color":"#fff"},{"offset":0.53,"color":"#fff"},{"offset":0.53,"color":"#000"},{"offset":0.6,"color":"#000"},
{"offset":0.6,"color":"#fff"},{"offset":0.73,"color":"#fff"},{"offset":0.73,"color":"#000"},{"offset":0.8,"color":"#000"},
{"offset":0.8,"color":"#fff"},{"offset":1,"color":"#fff"}]}},"encoding":{"x":{"field":"g","type":"nominal"},"y":{"field":"v","type":"quantitative"},"y2":{"datum":1}}},
{"data":{"name":"br"},"transform":[{"filter":"datum.c==='NA' && datum.k==='o'"}],"layer":[
{"mark":{"type":"rule","color":"black","strokeWidth":1.2},"encoding":{"x":{"field":"from","type":"nominal","bandPosition":0.5},"x2":{"field":"to","bandPosition":0.5},"y":{"field":"y","type":"quantitative"}}},
{"mark":{"type":"rule","color":"black","strokeWidth":1.2},"encoding":{"x":{"field":"from","type":"nominal","bandPosition":0.5},"y":{"field":"y","type":"quantitative"},"y2":{"field":"ylo"}}},
{"mark":{"type":"rule","color":"black","strokeWidth":1.2},"encoding":{"x":{"field":"to","type":"nominal","bandPosition":0.5},"y":{"field":"y","type":"quantitative"},"y2":{"field":"ylo"}}}]},
{"data":{"name":"br"},"transform":[{"filter":"datum.c==='NA' && datum.k==='i'"}],"layer":[
{"mark":{"type":"rule","color":"black","strokeWidth":1.2,"xOffset":2.5,"x2Offset":-2.5},"encoding":{"x":{"field":"from","type":"nominal","bandPosition":0.5},"x2":{"field":"to","bandPosition":0.5},"y":{"field":"y","type":"quantitative"}}},
{"mark":{"type":"rule","color":"black","strokeWidth":1.2,"xOffset":2.5},"encoding":{"x":{"field":"from","type":"nominal","bandPosition":0.5},"y":{"field":"y","type":"quantitative"},"y2":{"field":"ylo"}}},
{"mark":{"type":"rule","color":"black","strokeWidth":1.2,"xOffset":-2.5},"encoding":{"x":{"field":"to","type":"nominal","bandPosition":0.5},"y":{"field":"y","type":"quantitative"},"y2":{"field":"ylo"}}}]},
{"data":{"name":"br"},"transform":[{"filter":"datum.c==='NA'"}],"mark":{"type":"text","dx":3.3,"dy":-4,"fontSize":9,"fontWeight":"bold","baseline":"middle","color":"black"},"encoding":{"x":{"field":"lab","type":"nominal","bandPosition":1},"y":{"field":"y","type":"quantitative"},"text":{"field":"txt"}}}
]},
{"width":84,"height":117,
"title":{"text":"BSR","orient":"left","angle":0,"align":"right","baseline":"middle","anchor":"middle","offset":-17,"dy":-10,"fontSize":16},
"layer":[
{"data":{"name":"bars"},"transform":[{"filter":"datum.c==='BSR'"}],"mark":{"type":"bar","stroke":"black","strokeWidth":1.2},
"encoding":{"x":{"field":"g","type":"nominal","scale":{"type":"band","domain":["B2c","DRV","B2c(DRV-P)","B2c(DRV-G)"],"paddingInner":0.32,"paddingOuter":0.19},"axis":{"title":null,"labels":false,"ticks":false}},
"y":{"field":"v","type":"quantitative","scale":{"type":"log","domain":[1,10000000000],"range":[117,-7]},"axis":{"values":[1,100,10000,1000000,100000000,10000000000],"labelExpr":"'10' + ['⁰','¹','²','³','⁴','⁵','⁶','⁷','⁸','⁹','¹⁰'][round(log(datum.value)/LN10)]","labelFontSize":14,"title":["Leader RNA copy","numbers /10 ⁶ cells"],"titleFontSize":11.5,"titleLineHeight":15,"titlePadding":4}},
"y2":{"datum":1},
"fill":{"field":"g","type":"nominal"}}},
{"data":{"name":"bars"},"transform":[{"filter":"datum.c==='BSR' && datum.g==='B2c(DRV-P)'"}],"mark":{"type":"bar","stroke":"black","strokeWidth":1.2,"fill":{"gradient":"linear","x1":0,"y1":0,"x2":0,"y2":1,"stops":[
{"offset":0,"color":"#fff"},{"offset":0.024,"color":"#fff"},{"offset":0.024,"color":"#000"},{"offset":0.04,"color":"#000"},
{"offset":0.04,"color":"#fff"},{"offset":0.064,"color":"#fff"},{"offset":0.064,"color":"#000"},{"offset":0.08,"color":"#000"},
{"offset":0.08,"color":"#fff"},{"offset":0.104,"color":"#fff"},{"offset":0.104,"color":"#000"},{"offset":0.12,"color":"#000"},
{"offset":0.12,"color":"#fff"},{"offset":0.144,"color":"#fff"},{"offset":0.144,"color":"#000"},{"offset":0.16,"color":"#000"},
{"offset":0.16,"color":"#fff"},{"offset":0.184,"color":"#fff"},{"offset":0.184,"color":"#000"},{"offset":0.2,"color":"#000"},
{"offset":0.2,"color":"#fff"},{"offset":0.224,"color":"#fff"},{"offset":0.224,"color":"#000"},{"offset":0.24,"color":"#000"},
{"offset":0.24,"color":"#fff"},{"offset":0.264,"color":"#fff"},{"offset":0.264,"color":"#000"},{"offset":0.28,"color":"#000"},
{"offset":0.28,"color":"#fff"},{"offset":0.304,"color":"#fff"},{"offset":0.304,"color":"#000"},{"offset":0.32,"color":"#000"},
{"offset":0.32,"color":"#fff"},{"offset":0.344,"color":"#fff"},{"offset":0.344,"color":"#000"},{"offset":0.36,"color":"#000"},
{"offset":0.36,"color":"#fff"},{"offset":0.384,"color":"#fff"},{"offset":0.384,"color":"#000"},{"offset":0.4,"color":"#000"},
{"offset":0.4,"color":"#fff"},{"offset":0.424,"color":"#fff"},{"offset":0.424,"color":"#000"},{"offset":0.44,"color":"#000"},
{"offset":0.44,"color":"#fff"},{"offset":0.464,"color":"#fff"},{"offset":0.464,"color":"#000"},{"offset":0.48,"color":"#000"},
{"offset":0.48,"color":"#fff"},{"offset":0.504,"color":"#fff"},{"offset":0.504,"color":"#000"},{"offset":0.52,"color":"#000"},
{"offset":0.52,"color":"#fff"},{"offset":0.544,"color":"#fff"},{"offset":0.544,"color":"#000"},{"offset":0.56,"color":"#000"},
{"offset":0.56,"color":"#fff"},{"offset":0.584,"color":"#fff"},{"offset":0.584,"color":"#000"},{"offset":0.6,"color":"#000"},
{"offset":0.6,"color":"#fff"},{"offset":0.624,"color":"#fff"},{"offset":0.624,"color":"#000"},{"offset":0.64,"color":"#000"},
{"offset":0.64,"color":"#fff"},{"offset":0.664,"color":"#fff"},{"offset":0.664,"color":"#000"},{"offset":0.68,"color":"#000"},
{"offset":0.68,"color":"#fff"},{"offset":0.704,"color":"#fff"},{"offset":0.704,"color":"#000"},{"offset":0.72,"color":"#000"},
{"offset":0.72,"color":"#fff"},{"offset":0.744,"color":"#fff"},{"offset":0.744,"color":"#000"},{"offset":0.76,"color":"#000"},
{"offset":0.76,"color":"#fff"},{"offset":0.784,"color":"#fff"},{"offset":0.784,"color":"#000"},{"offset":0.8,"color":"#000"},
{"offset":0.8,"color":"#fff"},{"offset":0.824,"color":"#fff"},{"offset":0.824,"color":"#000"},{"offset":0.84,"color":"#000"},
{"offset":0.84,"color":"#fff"},{"offset":0.864,"color":"#fff"},{"offset":0.864,"color":"#000"},{"offset":0.88,"color":"#000"},
{"offset":0.88,"color":"#fff"},{"offset":0.904,"color":"#fff"},{"offset":0.904,"color":"#000"},{"offset":0.92,"color":"#000"},
{"offset":0.92,"color":"#fff"},{"offset":0.944,"color":"#fff"},{"offset":0.944,"color":"#000"},{"offset":0.96,"color":"#000"},
{"offset":0.96,"color":"#fff"},{"offset":0.984,"color":"#fff"},{"offset":0.984,"color":"#000"},{"offset":1,"color":"#000"}]}},"encoding":{"x":{"field":"g","type":"nominal"},"y":{"field":"v","type":"quantitative"},"y2":{"datum":1}}},
{"data":{"name":"bars"},"transform":[{"filter":"datum.c==='BSR' && datum.g==='B2c(DRV-G)'"}],"mark":{"type":"bar","stroke":"black","strokeWidth":1.2,"fill":{"gradient":"linear","x1":0,"y1":0,"x2":1,"y2":0,"stops":[
{"offset":0,"color":"#fff"},{"offset":0.13,"color":"#fff"},{"offset":0.13,"color":"#000"},{"offset":0.2,"color":"#000"},
{"offset":0.2,"color":"#fff"},{"offset":0.33,"color":"#fff"},{"offset":0.33,"color":"#000"},{"offset":0.4,"color":"#000"},
{"offset":0.4,"color":"#fff"},{"offset":0.53,"color":"#fff"},{"offset":0.53,"color":"#000"},{"offset":0.6,"color":"#000"},
{"offset":0.6,"color":"#fff"},{"offset":0.73,"color":"#fff"},{"offset":0.73,"color":"#000"},{"offset":0.8,"color":"#000"},
{"offset":0.8,"color":"#fff"},{"offset":1,"color":"#fff"}]}},"encoding":{"x":{"field":"g","type":"nominal"},"y":{"field":"v","type":"quantitative"},"y2":{"datum":1}}},
{"data":{"name":"br"},"transform":[{"filter":"datum.c==='BSR' && datum.k==='o'"}],"layer":[
{"mark":{"type":"rule","color":"black","strokeWidth":1.2},"encoding":{"x":{"field":"from","type":"nominal","bandPosition":0.5},"x2":{"field":"to","bandPosition":0.5},"y":{"field":"y","type":"quantitative"}}},
{"mark":{"type":"rule","color":"black","strokeWidth":1.2},"encoding":{"x":{"field":"from","type":"nominal","bandPosition":0.5},"y":{"field":"y","type":"quantitative"},"y2":{"field":"ylo"}}},
{"mark":{"type":"rule","color":"black","strokeWidth":1.2},"encoding":{"x":{"field":"to","type":"nominal","bandPosition":0.5},"y":{"field":"y","type":"quantitative"},"y2":{"field":"ylo"}}}]},
{"data":{"name":"br"},"transform":[{"filter":"datum.c==='BSR' && datum.k==='i'"}],"layer":[
{"mark":{"type":"rule","color":"black","strokeWidth":1.2,"xOffset":2.5,"x2Offset":-2.5},"encoding":{"x":{"field":"from","type":"nominal","bandPosition":0.5},"x2":{"field":"to","bandPosition":0.5},"y":{"field":"y","type":"quantitative"}}},
{"mark":{"type":"rule","color":"black","strokeWidth":1.2,"xOffset":2.5},"encoding":{"x":{"field":"from","type":"nominal","bandPosition":0.5},"y":{"field":"y","type":"quantitative"},"y2":{"field":"ylo"}}},
{"mark":{"type":"rule","color":"black","strokeWidth":1.2,"xOffset":-2.5},"encoding":{"x":{"field":"to","type":"nominal","bandPosition":0.5},"y":{"field":"y","type":"quantitative"},"y2":{"field":"ylo"}}}]},
{"data":{"name":"br"},"transform":[{"filter":"datum.c==='BSR'"}],"mark":{"type":"text","dx":3.3,"dy":-4,"fontSize":9,"fontWeight":"bold","baseline":"middle","color":"black"},"encoding":{"x":{"field":"lab","type":"nominal","bandPosition":1},"y":{"field":"y","type":"quantitative"},"text":{"field":"txt"}}}
]}
]
}
]
}
